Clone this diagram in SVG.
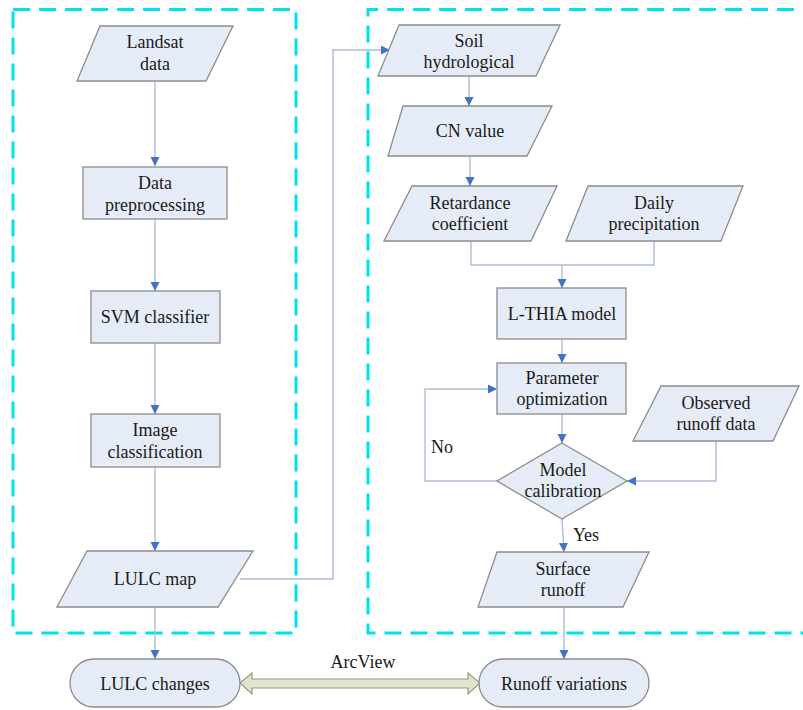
<svg xmlns="http://www.w3.org/2000/svg" width="803" height="710" viewBox="0 0 803 710">
<style>
.frame{fill:none;stroke:#00e1ee;stroke-width:3;stroke-dasharray:17 9}
.node{fill:#e6ecf7;stroke:#8c8c8c;stroke-width:1.3}
.t{font-family:'Liberation Serif','DejaVu Serif',serif;font-size:18px;fill:#1a1a1a;text-anchor:middle}
.c{fill:none;stroke:#aebdd6;stroke-width:1.4}
.dbl{fill:#dfe4cc;stroke:#959a7e;stroke-width:1.2}
</style>
<defs>
<marker id="ah" markerWidth="10" markerHeight="10" refX="9" refY="5" orient="auto" markerUnits="userSpaceOnUse">
<path d="M0,0.5 L9,5 L0,9.5 Z" fill="#4472c4"/>
</marker>
</defs>
<rect x="0" y="0" width="803" height="710" fill="#ffffff"/>
<g id="frames">
<path class="frame" d="M13,9.5 H296 V633 H13 Z"/>
<path class="frame" d="M820,9.5 H368 V633 H820"/>
</g>
<g id="connectors">
<path class="c" d="M155,81 V166" marker-end="url(#ah)"/>
<path class="c" d="M155,219 V291" marker-end="url(#ah)"/>
<path class="c" d="M155,343 V414" marker-end="url(#ah)"/>
<path class="c" d="M155,467 V551" marker-end="url(#ah)"/>
<path class="c" d="M155,607 V659" marker-end="url(#ah)"/>
<path class="c" d="M240,579 H333 V50 H390" marker-end="url(#ah)"/>
<path class="c" d="M469,76 V106" marker-end="url(#ah)"/>
<path class="c" d="M470,156 V186" marker-end="url(#ah)"/>
<path class="c" d="M471,241 V265 H654 V241"/>
<path class="c" d="M562,265 V288" marker-end="url(#ah)"/>
<path class="c" d="M562,339 V363" marker-end="url(#ah)"/>
<path class="c" d="M562,414 V443" marker-end="url(#ah)"/>
<path class="c" d="M497,481 H425 V389 H497" marker-end="url(#ah)"/>
<path class="c" d="M716,441 V481 H627" marker-end="url(#ah)"/>
<path class="c" d="M562,519 L564,552" marker-end="url(#ah)"/>
<path class="c" d="M564,607 V659" marker-end="url(#ah)"/>
<path class="dbl" d="M240,683 L252,673 V679 H468 V673 L480,683 L468,694 V688 H252 V694 Z"/>
<text class="t" font-family="Liberation Serif" x="363" y="668">ArcView</text>
<text class="t" font-family="Liberation Serif" x="442" y="453">No</text>
<text class="t" font-family="Liberation Serif" x="586" y="541">Yes</text>
</g>
<g id="landsat">
<polygon class="node" points="100,26 233,26 206,81 77,81"/>
<text class="t" x="155" y="48">Landsat</text>
<text class="t" x="155" y="70">data</text>
</g>
<g id="preprocessing">
<rect class="node" x="83" y="167" width="144" height="52"/>
<text class="t" x="155" y="189">Data</text>
<text class="t" x="155" y="211">preprocessing</text>
</g>
<g id="svm">
<rect class="node" x="91" y="291" width="129" height="52"/>
<text class="t" x="155" y="323">SVM classifier</text>
</g>
<g id="imgclass">
<rect class="node" x="91" y="414" width="129" height="53"/>
<text class="t" x="155" y="436">Image</text>
<text class="t" x="155" y="458">classification</text>
</g>
<g id="lulcmap">
<polygon class="node" points="87,551 253,551 218,607 57,607"/>
<text class="t" x="155" y="585">LULC map</text>
</g>
<g id="lulcchanges">
<rect class="node" x="70" y="659" width="170" height="48" rx="24"/>
<text class="t" x="155" y="690">LULC changes</text>
</g>
<g id="soil">
<polygon class="node" points="399,25 560,25 536,76 378,76"/>
<text class="t" x="469" y="47">Soil</text>
<text class="t" x="469" y="68">hydrological</text>
</g>
<g id="cn">
<polygon class="node" points="403,106 552,106 527,156 388,156"/>
<text class="t" x="470" y="137">CN value</text>
</g>
<g id="retardance">
<polygon class="node" points="412,186 557,186 531,241 384,241"/>
<text class="t" x="470" y="209">Retardance</text>
<text class="t" x="470" y="230">coefficient</text>
</g>
<g id="precip">
<polygon class="node" points="588,186 743,186 721,241 566,241"/>
<text class="t" x="654" y="209">Daily</text>
<text class="t" x="654" y="230">precipitation</text>
</g>
<g id="lthia">
<rect class="node" x="497" y="288" width="129" height="51"/>
<text class="t" x="562" y="320">L-THIA model</text>
</g>
<g id="paramopt">
<rect class="node" x="497" y="363" width="129" height="51"/>
<text class="t" x="562" y="384">Parameter</text>
<text class="t" x="562" y="405">optimization</text>
</g>
<g id="observed">
<polygon class="node" points="661,386 799,386 773,441 633,441"/>
<text class="t" x="716" y="409">Observed</text>
<text class="t" x="716" y="430">runoff data</text>
</g>
<g id="calibration">
<polygon class="node" points="562,443 627,481 562,519 497,481"/>
<text class="t" x="563" y="476">Model</text>
<text class="t" x="563" y="497">calibration</text>
</g>
<g id="surface">
<polygon class="node" points="497,552 649,552 623,607 478,607"/>
<text class="t" x="563" y="575">Surface</text>
<text class="t" x="563" y="596">runoff</text>
</g>
<g id="runoffvar">
<rect class="node" x="479" y="659" width="170" height="48" rx="24"/>
<text class="t" x="564" y="690">Runoff variations</text>
</g>
</svg>
